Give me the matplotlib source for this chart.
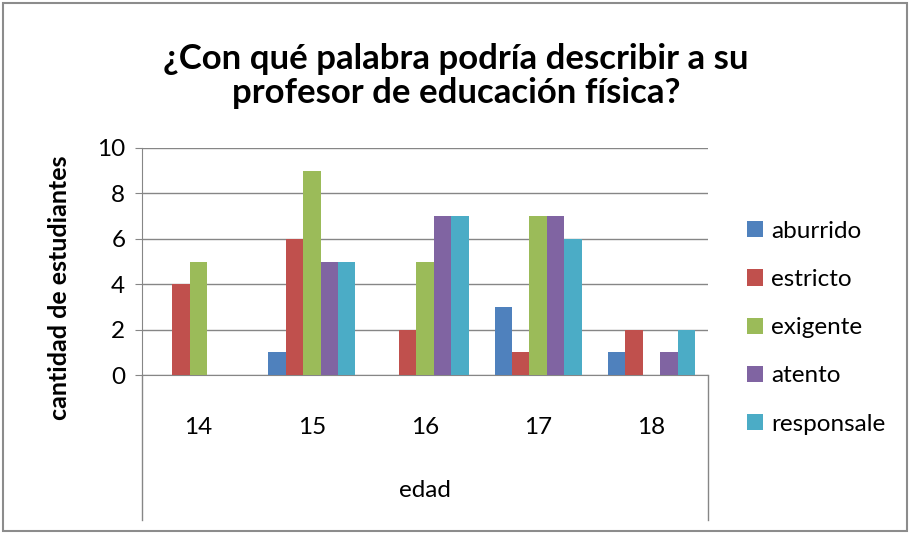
import matplotlib
matplotlib.use("Agg")
from matplotlib import pyplot as plt
from matplotlib.patches import Rectangle
import numpy as np

plt.rcParams['font.family'] = ['Lato', 'DejaVu Sans']

# data
edades = ["14", "15", "16", "17", "18"]
aburrido = [0, 1, 0, 3, 1]
estricto = [4, 6, 2, 1, 2]
exigente = [5, 9, 5, 7, 0]
atento = [0, 5, 7, 7, 1]
responsale = [0, 5, 7, 6, 2]

series = [("aburrido", aburrido, "#4F81BD"),
          ("estricto", estricto, "#C0504D"),
          ("exigente", exigente, "#9BBB59"),
          ("atento", atento, "#8064A2"),
          ("responsale", responsale, "#4BACC6")]

W, H = 910, 534
fig = plt.figure(figsize=(W / 100, H / 100), dpi=100)

# outer frame
fig.patches.append(Rectangle((3 / W, 3 / H), 904 / W, 528 / H, transform=fig.transFigure,
                             fill=False, edgecolor="#8c8c8c", linewidth=1.5))

# plot area in pixels: x 142..708, y 148..375
ax = fig.add_axes([142 / W, 1 - 375 / H, 566 / W, 227 / H])

x = np.arange(len(edades))
w = 1 / 6.5
for i, (name, vals, col) in enumerate(series):
    ax.bar(x + (i - 2) * w, vals, width=w, color=col, label=name, zorder=3)

ax.set_xlim(-0.5, 4.5)
ax.set_ylim(0, 10)
ax.set_yticks(range(0, 11, 2))
ax.grid(axis="y", color="#868686", linewidth=1, zorder=0)
ax.tick_params(axis="y", length=5, color="#868686", labelsize=17.5, pad=7)
ax.tick_params(axis="x", length=0, labelsize=17.5, pad=30)
ax.set_xticks(x)
ax.set_xticklabels(edades)
for s in ["top", "right"]:
    ax.spines[s].set_visible(False)
ax.spines["left"].set_color("#868686")
ax.spines["bottom"].set_color("#868686")

# category table lines below the axis
depth = (520 - 375) / 227
for xa in (0, 1):
    ax.plot([xa, xa], [0, -depth], transform=ax.transAxes, clip_on=False,
            color="#868686", linewidth=1)

ax.text(0.5, -(490 - 375) / 227, "edad", transform=ax.transAxes,
        ha="center", va="center", fontsize=17.5)

fig.text(60 / W, 1 - 288 / H, "cantidad de estudiantes", rotation=90,
         ha="center", va="center", fontsize=18, fontweight="bold")

fig.text(456 / W, 1 - 76 / H, "¿Con qué palabra podría describir a su\nprofesor de educación física?",
         ha="center", va="center", fontsize=25, fontweight="bold", linespacing=1.1)

leg = fig.legend(loc="upper left", bbox_to_anchor=(737 / W, 1 - 211 / H), frameon=False,
                 fontsize=17.5, handlelength=0.65, handleheight=0.65, handletextpad=0.35,
                 labelspacing=1.12, borderaxespad=0)

fig.savefig("out.png", dpi=100)
